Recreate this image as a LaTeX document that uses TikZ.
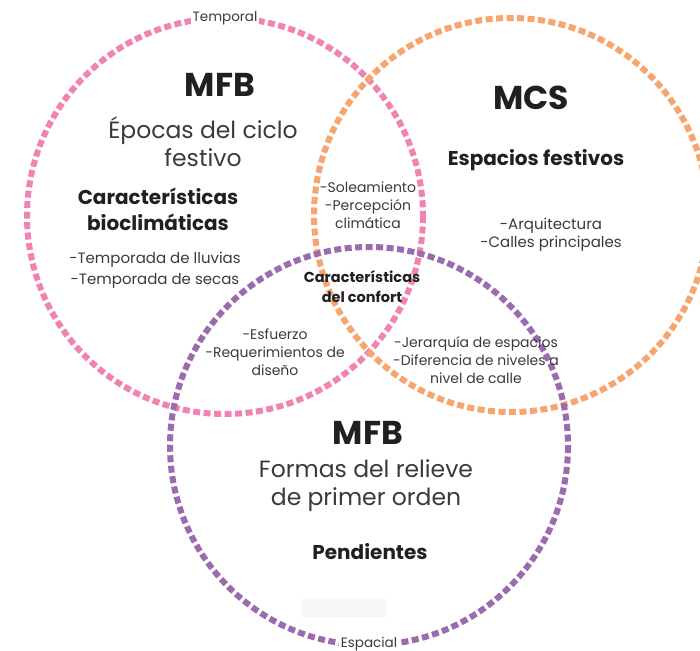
\documentclass[tikz,border=0pt]{standalone}
\usepackage{fontspec}
\setmainfont{Poppins}
\definecolor{cpink}{HTML}{F083B2}
\definecolor{corange}{HTML}{F8A46E}
\definecolor{cpurple}{HTML}{9B6AAF}
\definecolor{ctext}{HTML}{3A3A3A}
\definecolor{cbold}{HTML}{231F20}
\begin{document}
\begin{tikzpicture}[x=1pt,y=-1pt,
  ring/.style={line width=6pt, dash pattern=on 7pt off 3.5pt},
  big/.style={font=\fontsize{33}{38}\selectfont\bfseries, text=cbold},
  sub/.style={font=\fontsize{23.5}{28}\selectfont, text=ctext, align=center},
  head/.style={font=\fontsize{20}{26}\selectfont\bfseries, text=cbold, align=center},
  item/.style={font=\fontsize{15}{21}\selectfont, text=ctext, align=center},
  small/.style={font=\fontsize{14}{18}\selectfont, text=ctext, align=center},
  tag/.style={font=\fontsize{13.5}{15}\selectfont, text=ctext, fill=white, inner sep=2pt}]
\useasboundingbox (0,0) rectangle (700,650);
\fill[gray!6] (302,598) rectangle (386,617);
\draw[ring, cpink] (225,216) circle[radius=198];
\draw[ring, corange] (511,215) circle[radius=197];
\draw[ring, cpurple] (369,446) circle[radius=199];
\node[tag] (temporal) at (225,18) {Temporal};
\node[tag] (espacial) at (369,644) {Espacial};
\node[big] (mfb1) at (220,85) {MFB};
\node[sub] (epocas) at (203,142) {Épocas del ciclo\\festivo};
\node[head] (bioc) at (158,209) {Características\\bioclimáticas};
\node[item] (temp) at (155,270) {-Temporada de lluvias\\-Temporada de secas};
\node[big] (mcs) at (531,98) {MCS};
\node[head] (espf) at (536,160) {Espacios festivos};
\node[item, font=\fontsize{15}{18}\selectfont] (arq) at (551,235) {-Arquitectura\\-Calles principales};
\node[small] (sol) at (368,205) {-Soleamiento\\-Percepción\\climática};
\node[font=\fontsize{14.5}{20}\selectfont\bfseries, text=cbold, align=center] (conf) at (362,287) {Características\\del confort};
\node[small] (esf) at (275,352) {-Esfuerzo\\-Requerimientos de\\diseño};
\node[small] (jer) at (476,360) {-Jerarquía de espacios\\-Diferencia de niveles a\\nivel de calle};
\node[big] (mfb2) at (368,433) {MFB};
\node[sub] (formas) at (366,486) {Formas del relieve\\de primer orden};
\node[head] (pend) at (370,552) {Pendientes};
\end{tikzpicture}
\end{document}
